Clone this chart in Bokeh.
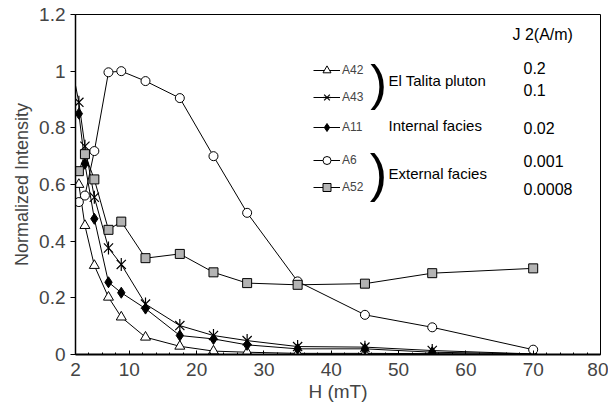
from bokeh.plotting import figure
from bokeh.models import Range1d, FixedTicker, Label, Legend, LegendItem
from bokeh.embed import file_html
from bokeh.resources import INLINE

# ---- data ----
field_mT = [2.5, 3.4, 4.8, 6.9, 8.8, 12.4, 17.5, 22.5, 27.5, 35, 45, 55, 70]
a42 = [0.60, 0.455, 0.314, 0.202, 0.132, 0.061, 0.029, 0.012, 0.008, 0.004, 0.004, 0.003, 0.0]
a43 = [0.89, 0.735, 0.555, 0.376, 0.318, 0.178, 0.102, 0.067, 0.049, 0.028, 0.026, 0.014, 0.002]
a43_line_field = [2.0] + field_mT
a43_line = [0.95] + a43
a11 = [0.85, 0.673, 0.479, 0.255, 0.218, 0.162, 0.067, 0.055, 0.034, 0.020, 0.020, 0.008, 0.002]
a6 = [0.538, 0.561, 0.718, 0.996, 1.0, 0.965, 0.905, 0.70, 0.50, 0.258, 0.14, 0.096, 0.017]
a52 = [0.647, 0.707, 0.618, 0.44, 0.469, 0.34, 0.355, 0.29, 0.252, 0.246, 0.25, 0.287, 0.304]

x_ticks = [2, 10, 20, 30, 40, 50, 60, 70, 80]
x_minor = [4, 6, 8, 12, 14, 16, 18, 22, 24, 26, 28, 32, 34, 36, 38, 42, 44, 46, 48,
           52, 54, 56, 58, 62, 64, 66, 68, 72, 74, 76, 78]
y_ticks = [0, 0.2, 0.4, 0.6, 0.8, 1.0, 1.2]
y_tick_labels = ["0", "0.2", "0.4", "0.6", "0.8", "1", "1.2"]

groups = ["El Talita pluton", "Internal facies", "External facies"]
j_header = "J 2(A/m)"
j_values = ["0.2", "0.1", "0.02", "0.001", "0.0008"]

FONT = "Liberation Sans"

p = figure(frame_width=525, frame_height=340, output_backend="svg", toolbar_location=None,
           x_range=Range1d(2, 80), y_range=Range1d(0, 1.2),
           min_border_left=75, min_border_right=8, min_border_top=14, min_border_bottom=48)
p.xgrid.visible = False
p.ygrid.visible = False
p.outline_line_color = "black"
p.outline_line_width = 1
p.background_fill_color = "white"
p.border_fill_color = "white"

p.xaxis.ticker = FixedTicker(ticks=x_ticks, minor_ticks=x_minor)
p.yaxis.ticker = FixedTicker(ticks=y_ticks)
p.yaxis.major_label_overrides = {t: s for t, s in zip(y_ticks, y_tick_labels)}
p.xaxis.axis_label = "H (mT)"
p.yaxis.axis_label = "Normalized Intensity"
for ax in (p.xaxis, p.yaxis):
    ax.axis_label_text_font = FONT
    ax.axis_label_text_font_style = "normal"
    ax.major_label_text_font = FONT
    ax.major_label_text_font_size = "19px"
    ax.axis_line_color = "black"
    ax.major_tick_line_color = "black"
    ax.minor_tick_line_color = "black"
p.xaxis.axis_label_text_font_size = "19px"
p.yaxis.axis_label_text_font_size = "18px"
p.xaxis.axis_line_width = 2
p.yaxis.axis_line_width = 1.5
p.xaxis.major_tick_in = 4
p.xaxis.major_tick_out = 0
p.xaxis.minor_tick_in = 2
p.xaxis.minor_tick_out = 0
p.xaxis.major_label_standoff = 8
p.xaxis.axis_label_standoff = 2
p.yaxis.major_tick_in = 0
p.yaxis.major_tick_out = 5
p.yaxis.minor_tick_line_color = None
p.yaxis.major_label_standoff = 5
p.yaxis.axis_label_standoff = 4

LW = 1
l42 = p.line(field_mT, a42, line_color="black", line_width=LW)
l43 = p.line(a43_line_field, a43_line, line_color="black", line_width=LW)
l11 = p.line(field_mT, a11, line_color="black", line_width=LW)
l6 = p.line(field_mT, a6, line_color="black", line_width=LW)
l52 = p.line(field_mT, a52, line_color="black", line_width=LW)

m42 = p.scatter(field_mT, a42, marker="triangle", size=10, fill_color="white", line_color="black")
m43a = p.scatter(field_mT, a43, marker="x", size=13, line_color="black", line_width=1.2)
m43b = p.scatter(field_mT, a43, marker="dash", size=13, angle=1.5708, line_color="black", line_width=1.2)
m11 = p.scatter(field_mT, a11, marker="diamond", size=11, fill_color="black", line_color="black")
m6 = p.scatter(field_mT, a6, marker="circle", size=9, fill_color="white", line_color="black")
m52 = p.scatter(field_mT, a52, marker="square", size=9, fill_color="#b4b4b4", line_color="black")

def make_legend(items, bottom):
    lg = Legend(items=items, location=(238, bottom), orientation="vertical",
                padding=0, margin=0, spacing=7, glyph_width=27, glyph_height=20,
                label_height=20, label_standoff=2, border_line_alpha=0,
                background_fill_alpha=0, label_text_font=FONT, label_text_font_size="12px")
    p.add_layout(lg)

make_legend([LegendItem(label="A42", renderers=[l42, m42]),
             LegendItem(label="A43", renderers=[l43, m43a, m43b])], 247)
make_legend([LegendItem(label="A11", renderers=[l11, m11])], 217)
make_legend([LegendItem(label="A6", renderers=[l6, m6]),
             LegendItem(label="A52", renderers=[l52, m52])], 157)

def lab(txt, x, y, size, align="left"):
    p.add_layout(Label(x=x, y=y, x_units="screen", y_units="screen", text=txt,
                       text_font=FONT, text_font_size=size, text_align=align,
                       text_baseline="middle", text_color="black"))

lab(")", 303, 272, "50px", "center")
lab(")", 303, 182, "52px", "center")
lab(groups[0], 313, 274, "15px")
lab(groups[1], 313, 229, "15px")
lab(groups[2], 313, 181, "15px")
lab(j_header, 437, 320, "16px")
for txt, y in zip(j_values, [287, 265, 227, 194, 166]):
    lab(txt, 448, y, "16px")

open("out.html", "w").write(file_html(p, INLINE))
